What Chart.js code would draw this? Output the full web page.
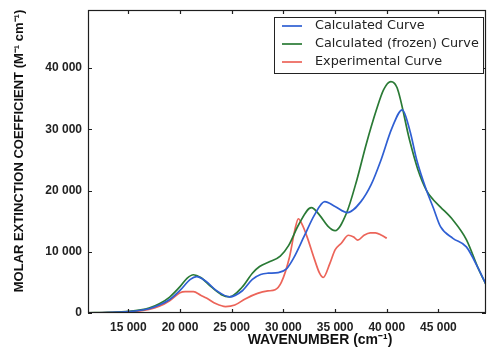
<!DOCTYPE html>
<html>
<head>
<meta charset="utf-8">
<title>Molar extinction spectrum</title>
<script src="https://cdn.jsdelivr.net/npm/chart.js@4.4.0/dist/chart.umd.min.js"></script>
<style>
    html, body { margin: 0; padding: 0; background: #fff; }
    #wrap { width: 488px; height: 349px; }
</style>
</head>
<body>
<div id="wrap"><canvas id="spectrum" width="488" height="349"></canvas></div>
<script>
// Wavenumbers (cm-1) and molar extinction values (M-1 cm-1) for each curve
const calcWavenumber = [11100, 13000, 15000, 17000, 18000, 19000, 20000, 21000, 21600, 22500, 23500, 24800,
    26000, 27000, 27800, 28500, 29500, 30300, 31000, 32000, 33000, 34000, 35000, 36200, 37500, 38500,
    39400, 40500, 41500, 42250, 42900, 43850, 44500, 45200, 46400, 47700, 48850, 49700];
const calcValues = [30, 80, 220, 700, 1300, 2200, 3700, 5500, 5950, 5200, 3700, 2650,
    3600, 5500, 6300, 6500, 6600, 7200, 9000, 12500, 16000, 18200, 17400, 16400, 18200, 21000,
    24800, 30200, 33200, 29700, 25000, 20000, 17200, 14100, 12200, 10800, 7300, 4300];

const frozenWavenumber = [11100, 13000, 15000, 17000, 18000, 19000, 20000, 20700, 21300, 22000, 23000, 24000,
    24800, 26000, 27000, 27700, 28700, 29700, 30500, 31500, 32700, 33500, 34300, 35000, 36100, 37100,
    38000, 39000, 39700, 40400, 41000, 42200, 43000, 43850, 44500, 45200, 46400, 47700, 48850, 49700];
const frozenValues = [30, 90, 250, 800, 1500, 2600, 4300, 5700, 6250, 5800, 4300, 3000,
    2650, 4200, 6500, 7600, 8400, 9300, 11000, 14500, 17200, 16000, 14200, 13450, 16300, 21700,
    27500, 33200, 36500, 37800, 36800, 28300, 23500, 20000, 18500, 17300, 15200, 12000, 7300, 4300];

const exptWavenumber = [11100, 13000, 15000, 17000, 18000, 19000, 20000, 20500, 21300, 22000, 22600, 23500,
    24400, 25300, 26300, 27500, 28500, 29200, 29800, 30600, 31100, 31450, 31800, 32300, 33000, 33500,
    33850, 34500, 35000, 35600, 36300, 36800, 37200, 37800, 38400, 38900, 39500, 40000];
const exptValues = [20, 60, 170, 600, 1100, 2000, 3300, 3500, 3480, 2900, 2400, 1500,
    1050, 1300, 2300, 3200, 3600, 3800, 5000, 9200, 13500, 15400, 14500, 12400, 8800, 6500,
    5800, 8100, 10300, 11400, 12700, 12400, 11900, 12700, 13100, 13100, 12700, 12200];

const seriesLabels = ['Calculated Curve', 'Calculated (frozen) Curve', 'Experimental Curve'];
const seriesColors = ['#2f5fd3', '#2a7a35', '#ec6459'];

const xTickValues = [15000, 20000, 25000, 30000, 35000, 40000, 45000];
const yTickValues = [0, 10000, 20000, 30000, 40000];

function toPoints(xs, ys) {
    return xs.map((x, i) => ({ x: x, y: ys[i] }));
}

function spaced(v) {
    return String(v).replace(/\B(?=(\d{3})+(?!\d))/g, ' ');
}

const tickFont = { family: '"Liberation Sans", Arial, sans-serif', size: 12, weight: 'bold' };

// frame with inward ticks on all sides, axis titles and boxed legend
const decorations = {
    id: 'decorations',
    afterDraw(chart) {
        const { ctx, chartArea: a, scales } = chart;
        const sx = scales.x, sy = scales.y;
        ctx.save();
        ctx.strokeStyle = '#1e1e1e';
        ctx.lineWidth = 1.2;
        ctx.strokeRect(a.left + 0.5, a.top + 0.5, a.right - a.left - 1, a.bottom - a.top - 1);

        ctx.beginPath();
        xTickValues.forEach(v => {
            const px = Math.round(sx.getPixelForValue(v)) + 0.5;
            ctx.moveTo(px, a.bottom); ctx.lineTo(px, a.bottom - 4);
            ctx.moveTo(px, a.top); ctx.lineTo(px, a.top + 4);
        });
        yTickValues.forEach(v => {
            const py = Math.round(sy.getPixelForValue(v)) + 0.5;
            ctx.moveTo(a.left, py); ctx.lineTo(a.left + 4, py);
            ctx.moveTo(a.right, py); ctx.lineTo(a.right - 4, py);
        });
        ctx.stroke();

        // axis titles
        ctx.fillStyle = '#111';
        ctx.textAlign = 'center';
        ctx.textBaseline = 'middle';
        ctx.font = 'bold 14px "Liberation Sans", Arial, sans-serif';
        ctx.fillText('WAVENUMBER (cm\u207B\u00B9)', 320, 340);

        ctx.save();
        ctx.translate(19, 151);
        ctx.rotate(-Math.PI / 2);
        ctx.font = 'bold 13px "Liberation Sans", Arial, sans-serif';
        ctx.fillText('MOLAR EXTINCTION COEFFICIENT (M\u207B\u00B9 cm\u207B\u00B9)', 0, 0);
        ctx.restore();

        // legend
        const box = { x: 274, y: 17, w: 209, h: 56 };
        ctx.fillStyle = '#fff';
        ctx.fillRect(box.x, box.y, box.w, box.h);
        ctx.strokeStyle = '#222';
        ctx.lineWidth = 1;
        ctx.strokeRect(box.x + 0.5, box.y + 0.5, box.w, box.h);
        ctx.font = '12.8px "DejaVu Sans", sans-serif';
        ctx.textAlign = 'left';
        chart.data.datasets.forEach((ds, i) => {
            const rowY = 26 + i * 18;
            ctx.strokeStyle = ds.borderColor;
            ctx.lineWidth = 1.7;
            ctx.beginPath();
            ctx.moveTo(282, rowY);
            ctx.lineTo(302, rowY);
            ctx.stroke();
            ctx.fillStyle = '#222';
            ctx.fillText(ds.label, 315, rowY);
        });
        ctx.restore();
    }
};

const datasets = [
    toPoints(calcWavenumber, calcValues),
    toPoints(frozenWavenumber, frozenValues),
    toPoints(exptWavenumber, exptValues)
].map((pts, i) => ({
    label: seriesLabels[i],
    data: pts,
    borderColor: seriesColors[i],
    backgroundColor: seriesColors[i],
    borderWidth: 1.7,
    pointRadius: 0,
    fill: false,
    cubicInterpolationMode: 'monotone'
}));

new Chart(document.getElementById('spectrum'), {
    type: 'line',
    data: { datasets: datasets },
    options: {
        responsive: false,
        animation: false,
        layout: { padding: { left: 0, top: 10, right: 2, bottom: 0 } },
        plugins: {
            legend: { display: false },
            tooltip: { enabled: false }
        },
        scales: {
            x: {
                type: 'linear',
                min: 11100,
                max: 49600,
                afterBuildTicks: s => { s.ticks = xTickValues.map(v => ({ value: v })); },
                afterFit: s => { s.height = 36; s.paddingLeft = 0; s.paddingRight = 0; },
                grid: { display: false, drawTicks: false },
                border: { display: false },
                ticks: {
                    padding: 7,
                    color: '#222',
                    font: tickFont,
                    maxRotation: 0,
                    callback: v => spaced(v)
                }
            },
            y: {
                type: 'linear',
                min: 0,
                max: 49500,
                afterBuildTicks: s => { s.ticks = yTickValues.map(v => ({ value: v })); },
                afterFit: s => { s.width = 88; s.paddingTop = 0; s.paddingBottom = 0; },
                grid: { display: false, drawTicks: false },
                border: { display: false },
                ticks: {
                    padding: 6,
                    color: '#222',
                    font: tickFont,
                    callback: v => spaced(v)
                }
            }
        }
    },
    plugins: [decorations]
});
</script>
</body>
</html>
